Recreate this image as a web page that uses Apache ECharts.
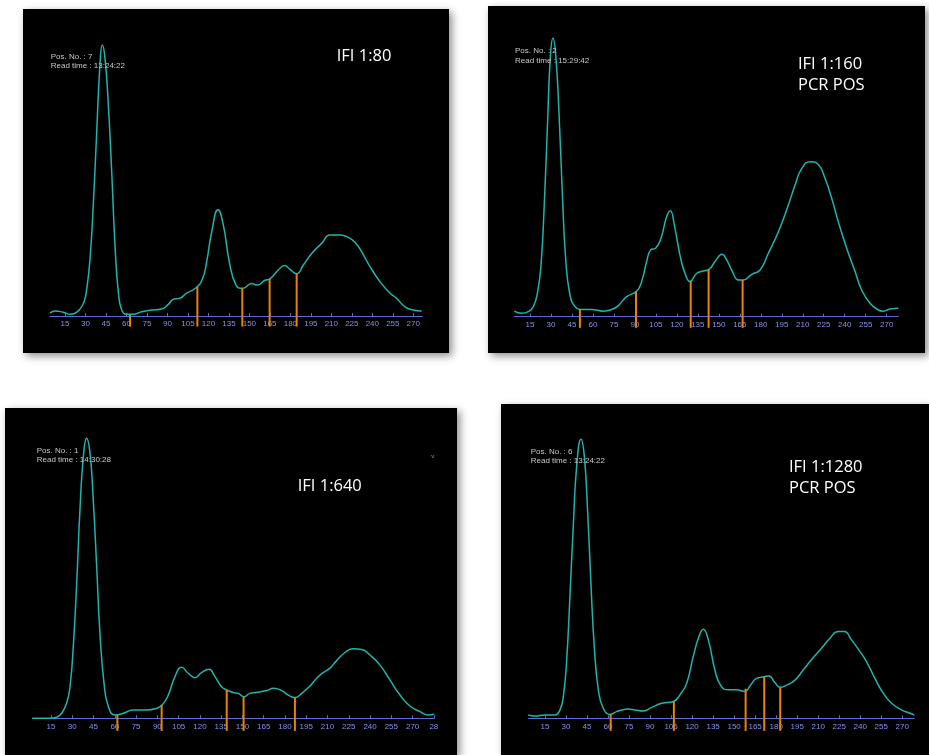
<!DOCTYPE html>
<html>
<head>
<meta charset="utf-8">
<script src="https://cdn.jsdelivr.net/npm/echarts@6/dist/echarts.min.js"></script>
<style>
html,body{margin:0;padding:0;background:#fff;}
#c{width:929px;height:755px;}
</style>
</head>
<body>
<div id="c"></div>
<script>
// ---------- data ----------
const ticks = [15,30,45,60,75,90,105,120,135,150,165,180,195,210,225,240,255,270];
const ticks3 = [15,30,45,60,75,90,105,120,135,150,165,180,195,210,225,240,255,270,285];
const tickLabels3 = ['15','30','45','60','75','90','105','120','135','150','165','180','195','210','225','240','255','270','28'];

const p1X = [4,7.7,13.8,18.7,22.3,26,29,30.9,33.3,35.7,38.2,40.6,42.3,44.3,46.7,49.2,51.6,54,56.5,60,65,71,77,85.8,90.6,94.8,98.7,104,111.4,115.8,118.7,122.4,127,130.9,135.3,140.2,145,151.6,155.8,161.4,165,171.2,175.6,179.7,184.6,189.5,195.6,202.9,209,216.4,222.5,227.3,232.2,238.3,245.6,253,257.8,263.9,270,276.1];
const p1Y = [1.0,1.8,1.4,0.6,1.0,2.6,5.3,10,21,41,68,93,100,95,78,53,26,9,2.2,0.6,0.6,1.6,2.1,2.6,4.3,6.3,6.5,8.4,10.6,13.9,20,31,39.2,33.6,20,11.4,10.2,12,11.4,13.2,13.7,17,18.6,17.2,15.6,18.8,23.1,26.8,29.9,29.9,29,27.2,23.7,18.2,12.7,8.4,6.5,3.4,2.2,1.8];
const p1GateX = [62.6,111.9,144.8,164.8,184.6];
const p1GateTop = [0.4,10.8,10.2,13.7,15.6];

const p2X = [3.8,9,13.8,17.4,20.5,22.9,25.2,27.6,29.5,31.4,33.4,35.7,38.1,40.5,43.6,47.2,50.7,59.1,67.4,73.4,78.2,84.1,91.3,94.8,98.4,101.3,104.8,108.6,112.7,115.3,118.2,122.2,125.8,129.4,134.2,138.9,143,147.3,152.3,155.6,159.7,164,167.5,173.5,179.5,185.4,192.6,199.7,204.5,209.3,215.2,221.1,225.9,230.7,235.4,241.4,247.4,252.1,258.1,264,267.6,272.4,278.3];
const p2Y = [2,1.2,1.8,3.6,9,18.6,40,70,92.8,100,94,73.7,44.9,21,7.8,3.6,2.6,2.6,2,2.6,4,7.2,9.2,12.6,19.8,24,24.6,28.1,35.9,38.1,32.9,22.2,15.6,12.6,15.6,16.4,17,19.8,22.4,20.4,16.2,13.2,13.2,15.2,16.8,22.8,30.5,40.1,47.3,53.3,55.7,54.7,49.7,42.5,34.1,24.6,16.2,9.6,4.8,2.4,2,2.8,3];
const p2GateX = [50.7,90.8,129.9,142.7,167];
const p2GateTop = [2.8,9.2,12.8,17,13.2];

const p3X = [1.8,14.3,19,22.5,26,28.4,30.7,33.1,35.4,37.8,40.1,42.5,44.8,47.2,49.5,52.4,55.4,60.1,66,73,82.4,89.5,93.5,97.7,102.4,107.1,111.8,116.5,121.2,126.4,130.6,135.3,138.9,143.6,147.1,151.1,155.3,160,167.1,171.8,177.7,182.3,187,191.8,197.6,202.3,207,211.7,216.4,222.3,228.2,234.1,239.9,247,254,261.1,268.1,275.2,281.1,285.3];
const p3Y = [0,0,0.4,1.8,5.4,11.3,25.6,48.2,74.4,93.5,100,94.6,78,54.2,30.4,12.5,4.2,1.2,1.8,3,3,3.6,4.8,8.3,14.9,18.2,16.1,14.5,16.3,17.5,14.9,11.3,10.1,9.2,8.9,7.7,8.9,9.2,9.9,10.7,9.9,8.3,7.4,8.9,11.5,14.3,16.3,17.9,20.6,23.5,24.8,24.6,22.6,19,13.7,8.3,4.4,2.4,1.2,1.5];
const p3GateX = [61.8,93,138.9,150.8,187];
const p3GateTop = [1.2,4.8,10.1,7.7,7.4];

const p4X = [3.1,7.9,15,22.1,25.7,28.1,30.5,32.8,35.2,37.6,40.7,43.1,45.4,47.8,50.2,53.1,56.6,61.4,66.1,69.7,74.5,79.2,85.2,91.1,98.3,106.6,111.3,116.1,120.8,124.9,128,131.6,136.3,140.6,145.8,151.8,157.7,161.3,166,171.5,174.8,179.1,182.9,187.4,193.4,199.3,205.3,212.4,218.4,224.3,228.6,233.8,239.8,244.5,250.5,256.4,262.4,269.5,275.5,278.6];
const p4Y = [1.2,0.8,1.2,1.2,3,7.8,20.9,43.6,68.7,90.2,100,93.8,74.7,48.4,25.7,10.2,3.6,1.4,2.4,3,3.3,3,2.6,3.9,5.4,6,8.4,12.5,22.1,29.3,31.9,28.1,17.3,11.6,10.2,10.2,9.6,11.6,14.3,14.9,15.2,12.8,11.1,11.9,13.7,17.3,21.1,25.1,28.7,31.1,31.1,28.1,23.9,20.3,14.3,9,5.4,3,1.8,1.2];
const p4GateX = [61.9,107,158.2,171.5,182.9];
const p4GateTop = [1.4,6,10.6,14.9,11.1];

const gateBottom = [-3.9,-4,-4.5,-4.5];

const posTexts = ['Pos. No. : 7','Pos. No. : 2','Pos. No. : 1','Pos. No. : 6'];
const timeTexts = ['Read time : 13:24:22','Read time : 15:29:42','Read time : 14:30:28','Read time : 13:24:22'];
const titleTexts = [['IFI 1:80'],['IFI 1:160','PCR POS'],['IFI 1:640'],['IFI 1:1280','PCR POS']];

// ---------- layout (styles/positions) ----------
const panels = [
  {rect:[23,9,426,344],   grid:{left:50,   top:45,    width:372.3, height:271},   xMin:4.0, xMax:276.6, info:[50.7,56.7], title:[336.7,56.7]},
  {rect:[488,6,437,347],  grid:{left:514.3,top:38.3,  width:384,   height:278.4}, xMin:3.8, xMax:278.3, info:[515,51],    title:[798,64.3]},
  {rect:[5,408,452,347],  grid:{left:32.3, top:438.3, width:402,   height:280},   xMin:1.8, xMax:285.3, info:[36.7,450.7],title:[297.7,486.7]},
  {rect:[501,404,428,351],grid:{left:528.3,top:439.3, width:386,   height:279},   xMin:3.1, xMax:278.6, info:[530.7,451.7],title:[789,467.3]}
];
const curves = [[p1X,p1Y],[p2X,p2Y],[p3X,p3Y],[p4X,p4Y]];
const gates = [[p1GateX,p1GateTop],[p2GateX,p2GateTop],[p3GateX,p3GateTop],[p4GateX,p4GateTop]];

const CURVE = '#1fb5ad', AXIS = '#5b6bd8', LABEL = '#8790ea', ORANGE = '#e8820c';

const grids = [], xAxes = [], yAxes = [], series = [], graphics = [];
panels.forEach((p, i) => {
  graphics.push({type:'rect', z:-10, shape:{x:p.rect[0], y:p.rect[1], width:p.rect[2], height:p.rect[3]},
    style:{fill:'#000', shadowBlur:8, shadowOffsetX:3, shadowOffsetY:3, shadowColor:'rgba(0,0,0,0.45)'}});
  grids.push(Object.assign({containLabel:false}, p.grid));
  const tv = i === 2 ? ticks3 : ticks;
  xAxes.push({
    type:'value', gridIndex:i, min:p.xMin, max:p.xMax, position:'bottom',
    axisLine:{onZero:false, lineStyle:{color:AXIS, width:1}},
    axisTick:{show:true, inside:true, length:3, customValues:tv, lineStyle:{color:AXIS}},
    axisLabel:{show:true, customValues:tv, color:LABEL, fontSize:8, margin:4, fontFamily:'Liberation Sans, Arial, sans-serif',
      formatter: i === 2 ? (v => tickLabels3[ticks3.indexOf(v)] || String(v)) : (v => String(v))},
    splitLine:{show:false}
  });
  yAxes.push({type:'value', gridIndex:i, min:0, max:100, show:false, splitLine:{show:false}});
  const [xs, ys] = curves[i];
  series.push({
    type:'line', xAxisIndex:i, yAxisIndex:i, data: xs.map((x,k)=>[x, ys[k]]),
    showSymbol:false, smooth:0.5, z:3, clip:false,
    lineStyle:{color:CURVE, width:1.5}, silent:true
  });
  const [gx, gt] = gates[i];
  series.push({
    type:'custom', xAxisIndex:i, yAxisIndex:i, z:4, silent:true, clip:false,
    data: gx.map((x,k)=>[x, gt[k], gateBottom[i]]),
    renderItem: (params, api) => {
      const a = api.coord([api.value(0), api.value(1)]);
      const b = api.coord([api.value(0), api.value(2)]);
      return {type:'line', shape:{x1:a[0], y1:a[1], x2:b[0], y2:b[1]}, style:{stroke:ORANGE, lineWidth:2}};
    }
  });
  graphics.push({type:'text', z:100, x:p.info[0], y:p.info[1],
    style:{text:posTexts[i], fill:'#c8c8c8', font:'8px "Liberation Sans", Arial, sans-serif', textVerticalAlign:'middle', verticalAlign:'middle'}});
  graphics.push({type:'text', z:100, x:p.info[0], y:p.info[1]+9.5,
    style:{text:timeTexts[i], fill:'#c8c8c8', font:'8px "Liberation Sans", Arial, sans-serif', textVerticalAlign:'middle', verticalAlign:'middle'}});
  titleTexts[i].forEach((t, k) => {
    graphics.push({type:'text', z:100, x:p.title[0], y:p.title[1] + k*21.4,
      style:{text:t, fill:'#ffffff', font:'16.5px "Open Sans", sans-serif', textVerticalAlign:'middle', verticalAlign:'middle'}});
  });
});
graphics.push({type:'text', z:100, x:432.7, y:456,
  style:{text:'v', fill:'#9a9a9a', font:'6px "Liberation Sans", Arial, sans-serif', textAlign:'center', align:'center', textVerticalAlign:'middle', verticalAlign:'middle'}});

const chart = echarts.init(document.getElementById('c'), null, {renderer:'canvas'});
chart.setOption({
  backgroundColor:'#ffffff',
  animation:false,
  grid:grids, xAxis:xAxes, yAxis:yAxes, series:series,
  graphic:{elements:graphics}
});
</script>
</body>
</html>
